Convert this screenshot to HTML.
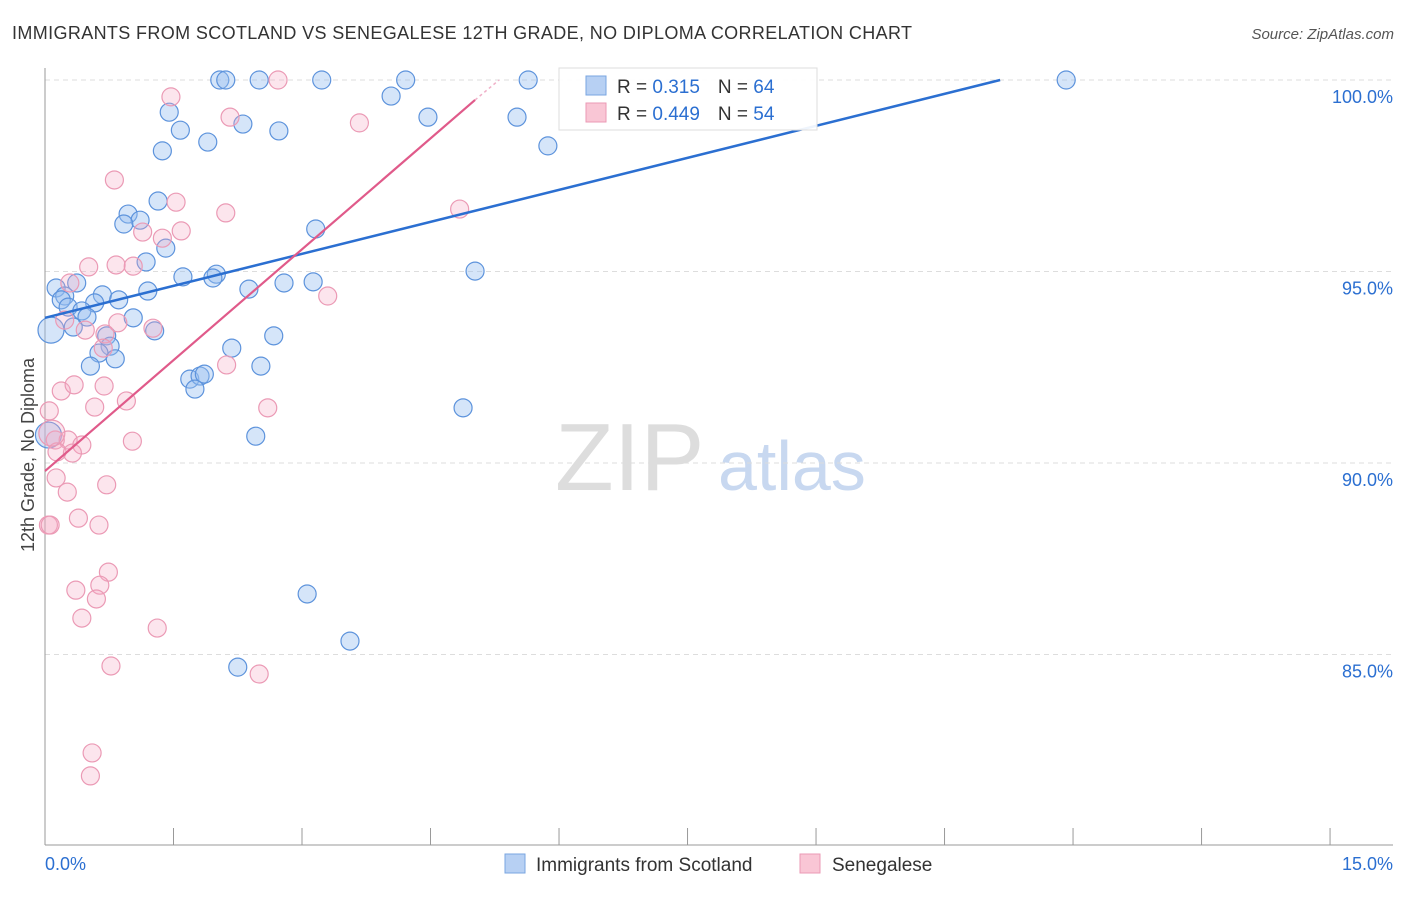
<!DOCTYPE html>
<html><head><meta charset="utf-8"><style>
body{margin:0;background:#fff;font-family:"Liberation Sans",sans-serif}
svg text{font-family:"Liberation Sans",sans-serif}
</style></head><body>
<svg id="c" width="1406" height="892">
<text x="12" y="39" font-size="18" fill="#333" textLength="900" lengthAdjust="spacing">IMMIGRANTS FROM SCOTLAND VS SENEGALESE 12TH GRADE, NO DIPLOMA CORRELATION CHART</text>
<text x="1394" y="39" font-size="15" fill="#555" font-style="italic" text-anchor="end">Source: ZipAtlas.com</text>
<text x="34" y="455" font-size="18" fill="#444" text-anchor="middle" transform="rotate(-90 34 455)">12th Grade, No Diploma</text>
<text x="555" y="490" font-size="96" fill="#ddd" font-family="Liberation Serif">ZIP</text>
<text x="718" y="490" font-size="70" fill="#c8d8f0">atlas</text>
<g id="grid"></g><g id="pts"></g><g id="lines"></g>
<g>
<rect x="559" y="68" width="258" height="62" fill="#fff" fill-opacity="0.92" stroke="#ddd"/>
<rect x="586" y="76" width="20" height="19" fill="#b7d0f3" stroke="#7aa6e0"/>
<rect x="586" y="103" width="20" height="19" fill="#f9c6d5" stroke="#eb9ab5"/>
<text x="617" y="93" font-size="19" fill="#333">R = <tspan fill="#2b6fd1"> 0.315</tspan><tspan dx="18">N = </tspan><tspan fill="#2b6fd1">64</tspan></text>
<text x="617" y="120" font-size="19" fill="#333">R = <tspan fill="#2b6fd1">0.449</tspan><tspan dx="18">N = </tspan><tspan fill="#2b6fd1">54</tspan></text>
</g>
<g>
<rect x="505" y="854" width="20" height="19" fill="#b7d0f3" stroke="#7aa6e0"/>
<text x="536" y="871" font-size="19" fill="#333">Immigrants from Scotland</text>
<rect x="800" y="854" width="20" height="19" fill="#f9c6d5" stroke="#eb9ab5"/>
<text x="832" y="871" font-size="19" fill="#333">Senegalese</text>
</g>
</svg>
<script>
const xTicks=[0,1.5,3,4.5,6,7.5,9,10.5,12,13.5,15];
const yTicks=[100,95,90,85];
const yTickLabels=["100.0%","95.0%","90.0%","85.0%"];
const blueX=[2.04,2.11,2.50,3.23,4.21,5.64,11.92,4.04,1.45,4.47,5.51,2.31,1.58,2.73,1.90,5.87,1.37,1.32,0.97,1.11,0.92,3.16,1.41,1.18,5.02,1.61,2.00,1.96,3.13,2.79,0.13,0.37,1.20,2.38,0.67,0.86,0.23,0.19,0.58,0.27,0.43,0.49,1.03,0.33,1.28,0.72,2.67,0.76,2.18,0.63,0.82,0.53,2.52,1.69,1.81,1.86,1.75,4.88,2.46,3.06,3.56,2.25,0.07,0.04];
const blueY=[100,100,100,100,100,100,100,99.58,99.16,99.03,99.03,98.85,98.69,98.67,98.38,98.28,98.15,96.84,96.50,96.34,96.24,96.11,95.61,95.25,95.01,94.86,94.93,94.83,94.73,94.70,94.57,94.70,94.49,94.54,94.39,94.26,94.36,94.26,94.18,94.07,93.97,93.81,93.79,93.55,93.45,93.32,93.32,93.05,93.00,92.87,92.72,92.53,92.53,92.19,92.27,92.32,91.93,91.44,90.70,86.58,85.35,84.67,93.47,90.73];
const pinkX=[2.72,1.47,2.16,3.67,0.81,1.53,2.11,4.84,1.14,1.59,1.37,0.83,0.51,1.03,0.29,3.30,0.85,1.26,0.47,0.23,0.70,0.68,0.19,0.34,0.69,0.95,0.58,2.60,2.12,0.05,1.02,0.12,0.27,0.43,0.14,0.32,0.13,0.26,0.72,0.39,0.04,0.06,0.63,0.74,0.64,0.36,0.60,0.43,1.31,0.77,2.50,0.55,0.53,0.08];
const pinkY=[100,99.56,99.03,98.88,97.39,96.81,96.53,96.63,96.03,96.06,95.87,95.17,95.12,95.14,94.70,94.36,93.66,93.52,93.47,93.73,93.37,93.00,91.88,92.04,92.01,91.62,91.46,91.44,92.56,91.36,90.57,90.60,90.60,90.47,90.29,90.26,89.61,89.24,89.43,88.56,88.38,88.38,88.38,87.15,86.81,86.68,86.45,85.95,85.69,84.70,84.49,82.43,81.83,90.78];
const bigBlue=[62,63], bigPink=[53];
const blueTrend=[93.79,0.557], pinkTrend=[89.79,1.93];
const X=v=>45+v*85.67, Y=v=>80+(100-v)*38.3;
const NS="http://www.w3.org/2000/svg";
function mk(t,a,p){const e=document.createElementNS(NS,t);for(const k in a)e.setAttribute(k,a[k]);p.appendChild(e);return e;}
const g=document.getElementById('grid');
yTicks.forEach((v,i)=>{
 const l=mk('line',{x1:45,x2:1393,y1:Y(v),y2:Y(v),stroke:'#ddd','stroke-dasharray':'5,4'},g);
 
 
 const t=mk('text',{x:1393,y:Y(v)+23,'font-size':18,fill:'#2b6fd1','text-anchor':'end'},g);
 t.textContent=yTickLabels[i];
 
 
});
const ax=mk('line',{x1:45,x2:45,y1:68,y2:845,stroke:'#999'},g);


const bx=mk('line',{x1:45,x2:1393,y1:845,y2:845,stroke:'#999'},g);


xTicks.forEach(v=>{
 const l=mk('line',{x1:X(v),x2:X(v),y1:828,y2:845,stroke:'#999'},g);
 
 
});
[[0,'0.0%','start',45],[15,'15.0%','end',1393]].forEach(d=>{
 const t=mk('text',{x:d[3],y:870,'font-size':18,fill:'#2b6fd1','text-anchor':d[2]},g);
 t.textContent=d[1];
 
 
});
const p=document.getElementById('pts');
blueX.forEach((v,i)=>{
 const c=mk('circle',{cx:X(v),cy:Y(blueY[i]),r:bigBlue.includes(i)?13:9,fill:'rgba(150,190,240,0.4)',stroke:'#5d93dc','stroke-width':1.2},p);
 
 
});
pinkX.forEach((v,i)=>{
 const c=mk('circle',{cx:X(v),cy:Y(pinkY[i]),r:bigPink.includes(i)?13:9,fill:'rgba(245,170,195,0.3)',stroke:'#eb9ab5','stroke-width':1.2},p);
 
 
});
const L=document.getElementById('lines');
const bEnd=(100-blueTrend[0])/blueTrend[1];
const bl=mk('line',{x1:X(0),y1:Y(blueTrend[0]),x2:X(bEnd),y2:Y(100),stroke:'#2b6fd1','stroke-width':2.5},L);


const pl=mk('line',{x1:X(0),y1:Y(pinkTrend[0]),x2:X(5.02),y2:Y(pinkTrend[0]+pinkTrend[1]*5.02),stroke:'#e05a8a','stroke-width':2.2},L);


const pd=mk('line',{x1:X(5.02),y1:Y(pinkTrend[0]+pinkTrend[1]*5.02),x2:X(5.3),y2:Y(100),stroke:'#f0b0c8','stroke-width':1.5,'stroke-dasharray':'3,3'},L);


</script>
</body></html>
